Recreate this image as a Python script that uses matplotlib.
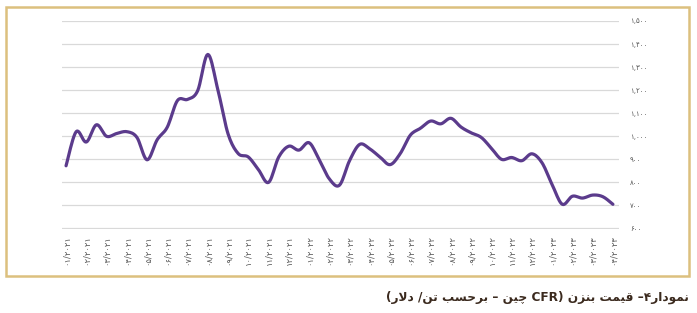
import numpy as np
import matplotlib
matplotlib.use("Agg")
import matplotlib.pyplot as plt
from matplotlib.patches import Rectangle

# benzene price, CFR China ($/t) (two points per tick)
prices = [872, 1020, 975, 1050, 1000, 1012, 1020, 995, 898, 985,
          1040, 1155, 1160, 1198, 1355, 1200, 1010, 925, 910, 855,
          800, 910, 957, 940, 972, 898, 815, 788, 895, 965,
          945, 910, 877, 925, 1005, 1035, 1066, 1054, 1078, 1040,
          1015, 995, 948, 900, 908, 894, 924, 885, 790, 705,
          740, 732, 745, 738, 705]

# x tick labels (too small to read in the source, estimated)
months = ["۰۱", "۰۲", "۰۳", "۰۴", "۰۵", "۰۶", "۰۷", "۰۸", "۰۹", "۱۰", "۱۱", "۱۲"]
tick_labels = [months[i % 12] + "/" + ("۲۰۲۱", "۲۰۲۲", "۲۰۲۳")[i // 12] for i in range(28)]

y_ticks = [600, 700, 800, 900, 1000, 1100, 1200, 1300, 1400, 1500]
y_labels = ["۶۰۰", "۷۰۰", "۸۰۰", "۹۰۰", "۱,۰۰۰", "۱,۱۰۰", "۱,۲۰۰", "۱,۳۰۰", "۱,۴۰۰", "۱,۵۰۰"]

# --- minimal arabic shaping (matplotlib has no text shaping) ---
FORMS = {
    "ا": (0xFE8D, 0xFE8E, None, None),
    "ب": (0xFE8F, 0xFE90, 0xFE91, 0xFE92),
    "ت": (0xFE95, 0xFE96, 0xFE97, 0xFE98),
    "ح": (0xFEA1, 0xFEA2, 0xFEA3, 0xFEA4),
    "د": (0xFEA9, 0xFEAA, None, None),
    "ر": (0xFEAD, 0xFEAE, None, None),
    "ز": (0xFEAF, 0xFEB0, None, None),
    "س": (0xFEB1, 0xFEB2, 0xFEB3, 0xFEB4),
    "ق": (0xFED5, 0xFED6, 0xFED7, 0xFED8),
    "ل": (0xFEDD, 0xFEDE, 0xFEDF, 0xFEE0),
    "م": (0xFEE1, 0xFEE2, 0xFEE3, 0xFEE4),
    "ن": (0xFEE5, 0xFEE6, 0xFEE7, 0xFEE8),
    "و": (0xFEED, 0xFEEE, None, None),
    "ی": (0xFBFC, 0xFBFD, 0xFBFE, 0xFBFF),
    "چ": (0xFB7A, 0xFB7B, 0xFB7C, 0xFB7D),
}


def shape(word):
    out = []
    i = 0
    while i < len(word):
        c = word[i]
        prev_joins = i > 0 and FORMS[word[i - 1]][2] is not None
        if c == "ل" and i + 1 < len(word) and word[i + 1] == "ا":
            out.append(chr(0xFEFC if prev_joins else 0xFEFB))
            i += 2
            continue
        f = FORMS[c]
        next_joins = f[2] is not None and i + 1 < len(word)
        if prev_joins and next_joins:
            g = f[3]
        elif prev_joins:
            g = f[1]
        elif next_joins:
            g = f[2]
        else:
            g = f[0]
        out.append(chr(g))
        i += 1
    return "".join(reversed(out))


caption = ("(" + shape("دلار") + " /" + shape("تن") + " " + shape("برحسب") + " – "
           + shape("چین") + " CFR) " + shape("بنزن") + " " + shape("قیمت") + " –۴"
           + shape("نمودار"))


def catmull(x, y, n=10):
    x = np.asarray(x, float)
    y = np.asarray(y, float)
    px = np.concatenate([[x[0]], x, [x[-1]]])
    py = np.concatenate([[y[0]], y, [y[-1]]])
    t = np.linspace(0, 1, n, endpoint=False)
    xs, ys = [], []
    for i in range(1, len(px) - 2):
        for p, out in ((px, xs), (py, ys)):
            p0, p1, p2, p3 = p[i - 1], p[i], p[i + 1], p[i + 2]
            out.extend(0.5 * (2 * p1 + (-p0 + p2) * t + (2 * p0 - 5 * p1 + 4 * p2 - p3) * t ** 2
                              + (-p0 + 3 * p1 - 3 * p2 + p3) * t ** 3))
    xs.append(x[-1])
    ys.append(y[-1])
    return np.array(xs), np.array(ys)


fig = plt.figure(figsize=(6.97, 3.13), dpi=100)
ax = fig.add_axes([62 / 697, 1 - 228.5 / 313, 557 / 697, 207.5 / 313])

xk = np.arange(len(prices))
sx, sy = catmull(xk, prices)
ax.plot(sx, sy, color="#5b3b8c", linewidth=2.3, solid_capstyle="round", zorder=3)

ax.set_xlim(-0.4, 54.6)
ax.set_ylim(600, 1500)
ax.set_yticks(y_ticks)
ax.set_yticklabels(y_labels)
ax.yaxis.tick_right()
ax.set_xticks(np.arange(0, 55, 2))
ax.set_xticklabels(tick_labels, rotation=90, fontsize=6)
ax.tick_params(axis="both", length=0, labelcolor="#555555")
ax.tick_params(axis="y", pad=8, labelsize=5)
ax.tick_params(axis="x", pad=5)
ax.grid(axis="y", color="#d9d9d9", linewidth=0.9)
for s in ax.spines.values():
    s.set_visible(False)

fig.patches.append(Rectangle((6 / 697, 1 - 276 / 313), 683 / 697, 269 / 313,
                             transform=fig.transFigure, fill=False,
                             edgecolor="#dcc07e", linewidth=1.8))

fig.text(689 / 697, 1 - 297 / 313, caption, ha="right", va="center",
         fontsize=8.7, fontweight="bold", color="#3b2a1e", family=["DejaVu Sans"])

fig.savefig("out.png", dpi=100)
